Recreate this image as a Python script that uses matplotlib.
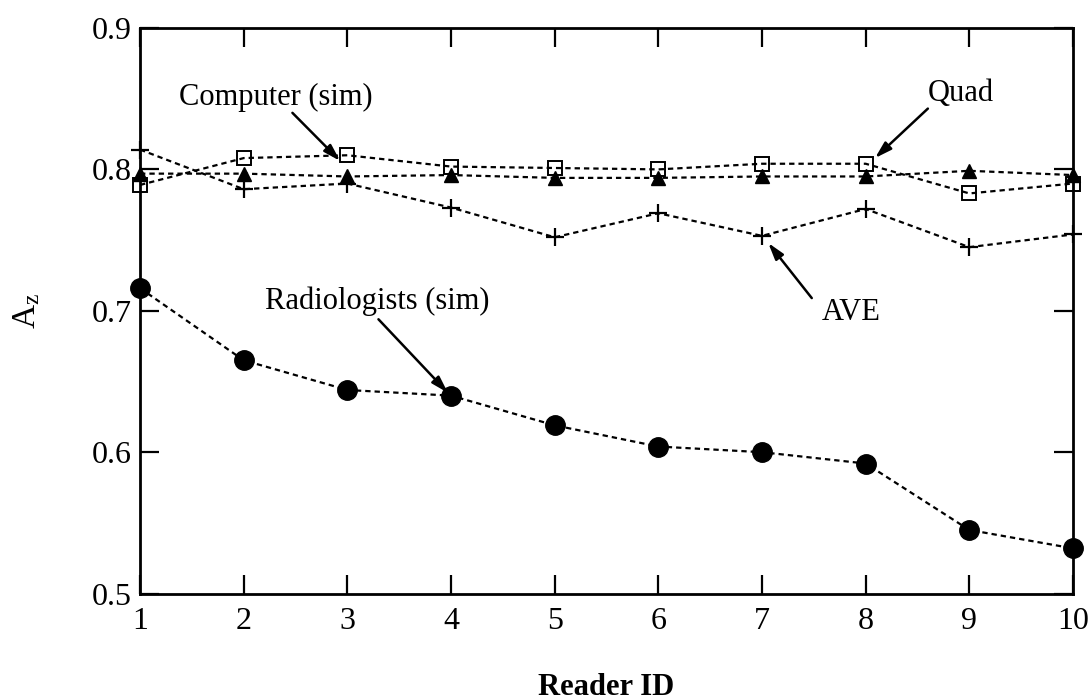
import matplotlib
matplotlib.use("Agg")
import matplotlib.pyplot as plt

plt.rcParams['font.family'] = ['Liberation Serif', 'DejaVu Serif']
plt.rcParams['mathtext.fontset'] = 'custom'
plt.rcParams['mathtext.rm'] = 'Liberation Serif'
plt.rcParams['mathtext.it'] = 'Liberation Serif:italic'

reader = [1, 2, 3, 4, 5, 6, 7, 8, 9, 10]
computer_sim = [0.789, 0.808, 0.810, 0.802, 0.801, 0.800, 0.804, 0.804, 0.783, 0.790]
quad = [0.797, 0.797, 0.795, 0.796, 0.794, 0.794, 0.795, 0.795, 0.799, 0.796]
ave = [0.814, 0.786, 0.790, 0.773, 0.752, 0.769, 0.753, 0.772, 0.745, 0.754]
radiologists_sim = [0.716, 0.665, 0.644, 0.640, 0.619, 0.604, 0.600, 0.592, 0.545, 0.532]

xticks = [1, 2, 3, 4, 5, 6, 7, 8, 9, 10]
yticks = [0.5, 0.6, 0.7, 0.8, 0.9]
ytick_labels = ['0.5', '0.6', '0.7', '0.8', '0.9']

fig = plt.figure(figsize=(10.89, 7), dpi=100)
ax = fig.add_axes([0.1286, 0.152, 0.8567, 0.808])

dash = (2.4, 1.8)
ax.plot(reader, ave, color='black', lw=1.6, dashes=dash, marker='+',
        ms=13, mew=1.6, clip_on=False, zorder=3)
ax.plot(reader, quad, color='black', lw=1.6, dashes=dash, marker='^',
        ms=10, clip_on=False, zorder=4)
ax.plot(reader, computer_sim, color='black', lw=1.6, dashes=dash, marker='s',
        ms=10, mfc='none', mew=1.4, clip_on=False, zorder=5)
ax.plot(reader, radiologists_sim, color='black', lw=1.6, dashes=dash, marker='o',
        ms=14, clip_on=False, zorder=4)

ax.set_xlim(1, 10)
ax.set_ylim(0.5, 0.9)
ax.set_xticks(xticks)
ax.set_yticks(yticks)
ax.set_yticklabels(ytick_labels)
ax.tick_params(direction='in', length=14, width=1.6, labelsize=23,
               top=True, right=True)
ax.tick_params(axis='x', pad=10)
ax.tick_params(axis='y', pad=6)
for s in ax.spines.values():
    s.set_linewidth(2.0)

ax.set_xlabel('Reader ID', fontsize=22, fontweight='bold', labelpad=26)
ax.set_ylabel(r'$\mathregular{A_z}$', fontsize=24, labelpad=36)

arrow = dict(arrowstyle='-|>,head_length=1.0,head_width=0.3', color='black',
             lw=1.8, shrinkA=0, shrinkB=0)

ax.text(2.31, 0.851, 'Computer (sim)', fontsize=22, ha='center', va='center')
ax.annotate('', xy=(2.93, 0.806), xytext=(2.47, 0.840), arrowprops=arrow)

ax.text(8.92, 0.854, 'Quad', fontsize=22, ha='center', va='center')
ax.annotate('', xy=(8.09, 0.808), xytext=(8.60, 0.843), arrowprops=arrow)

ax.text(3.29, 0.707, 'Radiologists (sim)', fontsize=22, ha='center', va='center')
ax.annotate('', xy=(3.97, 0.642), xytext=(3.30, 0.694), arrowprops=arrow)

ax.text(7.86, 0.699, 'AVE', fontsize=22, ha='center', va='center')
ax.annotate('', xy=(7.06, 0.748), xytext=(7.48, 0.709), arrowprops=arrow)

fig.savefig('out.png', dpi=100)
